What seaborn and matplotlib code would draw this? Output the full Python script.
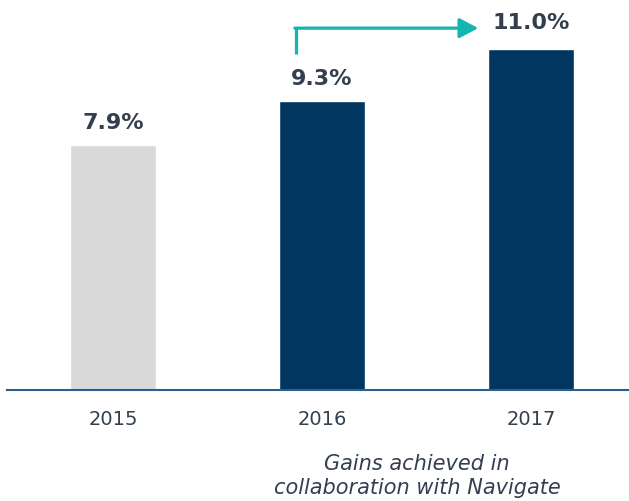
import matplotlib
matplotlib.use("Agg")
import matplotlib.pyplot as plt
import seaborn as sns
import pandas as pd

years = ["2015", "2016", "2017"]
values = [7.9, 9.3, 11.0]
labels = ["7.9%", "9.3%", "11.0%"]
bar_colors = ["#d9d9d9", "#003660", "#003660"]
note = "Gains achieved in\ncollaboration with Navigate"

sns.set_theme(style="white")
plt.rcParams['font.family'] = ['DejaVu Sans']

TEXT = "#333f4f"
fig = plt.figure(figsize=(6.29, 5.02), dpi=100)
ax = fig.add_axes([0.0111, 0.222, 0.9889, 0.778])

df = pd.DataFrame({"year": years, "value": values})
sns.barplot(data=df, x="year", y="value", hue="year", palette=bar_colors,
            width=0.41, legend=False, ax=ax, saturation=1)

ax.set_xlim(-0.507, 2.469)
ax.set_ylim(0, 12.6)
for s in ["top", "right", "left"]:
    ax.spines[s].set_visible(False)
ax.spines["bottom"].set_color("#2e5f8a")
ax.spines["bottom"].set_linewidth(1.5)
ax.set_yticks([])
ax.set_xlabel("")
ax.set_ylabel("")
ax.tick_params(axis="x", length=0, pad=14, labelsize=14, labelcolor=TEXT)

label_offsets = [0.72, 0.76, 0.87]
for i, (v, lab) in enumerate(zip(values, labels)):
    ax.text(i, v + label_offsets[i], lab, ha="center", va="center", fontsize=16,
            fontweight="bold", color=TEXT)

# growth arrow from 2016 to 2017
arrow_y = 11.66
ax.plot([0.876, 0.876], [10.82, arrow_y], color="#13b5b1", lw=2.3,
        solid_capstyle="butt")
ax.annotate("", xy=(1.748, arrow_y), xytext=(0.87, arrow_y),
            arrowprops=dict(arrowstyle="-|>,head_length=0.95,head_width=0.5",
                            color="#13b5b1", lw=2.3, shrinkA=0, shrinkB=0))

fig.text(417 / 629, 1 - 476 / 502, note, ha="center", va="center",
         fontsize=15, style="italic", color=TEXT, linespacing=1.22)

fig.savefig("out.png", dpi=100)
